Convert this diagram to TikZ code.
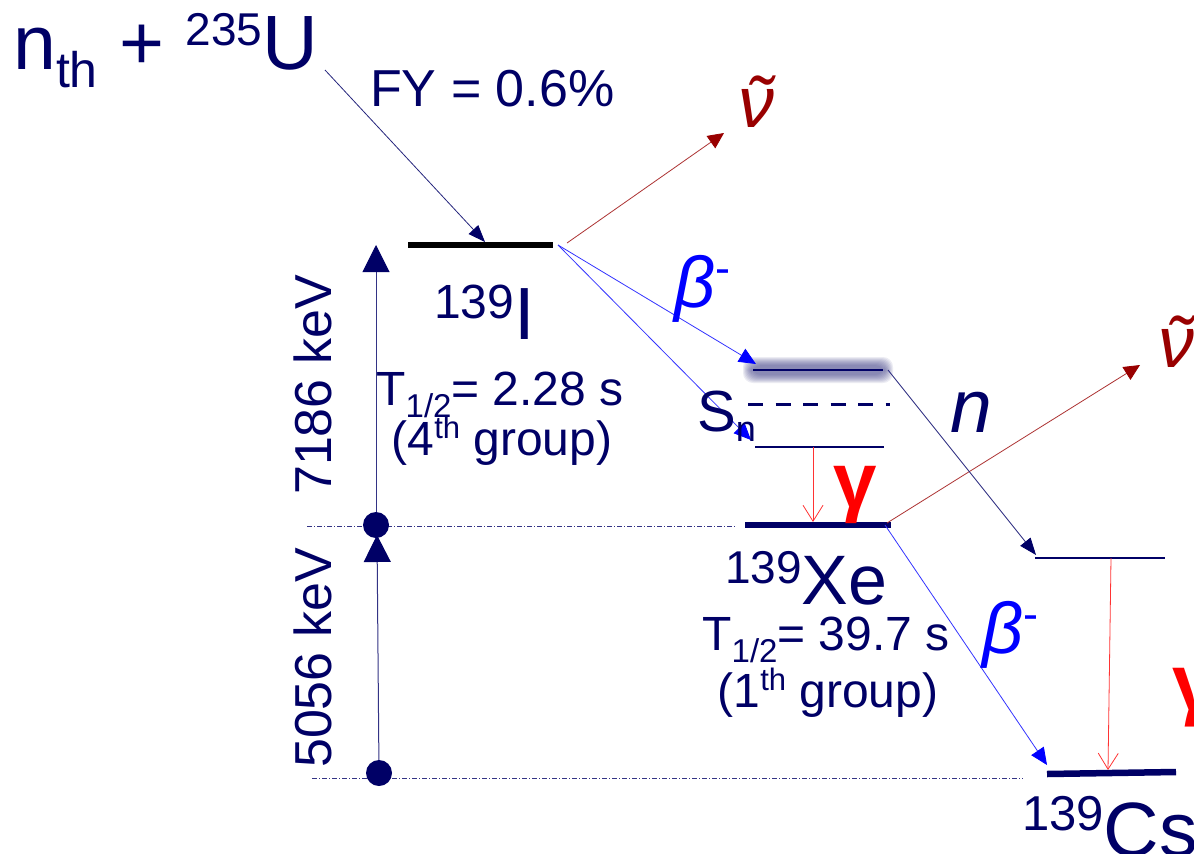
\documentclass[tikz,border=0pt]{standalone}
\usepackage{fontspec}
\setmainfont{Liberation Sans}
\usetikzlibrary{arrows.meta}
\definecolor{navy}{RGB}{0,0,102}
\definecolor{dred}{RGB}{153,0,0}
\definecolor{shadowc}{RGB}{70,70,140}
\newcommand\fsz[1]{\fontsize{#1}{#1}\selectfont}
\begin{document}
\begin{tikzpicture}[x=1pt,y=-1pt,
  txt/.style={navy,inner sep=0pt,anchor=base west},
  txtc/.style={navy,inner sep=0pt,anchor=base},
  thinlvl/.style={navy,line width=1.3pt},
  thicklvl/.style={navy,line width=6.5pt},
  navarr/.style={draw=navy!85,line width=0.8pt,-{Triangle[length=17pt,width=13pt,color=navy]}},
  bluarr/.style={draw=blue!80,line width=0.8pt,-{Triangle[length=17pt,width=15pt,color=blue]}},
  nuarr/.style={draw=dred!80,line width=0.8pt,-{Triangle[length=16pt,width=15pt,color=dred]}},
  gamarr/.style={draw=red!80,line width=0.8pt,-{Straight Barb[length=16pt,width=20pt]}},
  enarr/.style={draw=navy!80,line width=1pt,-{Triangle[length=27pt,width=27pt,color=navy]}},
  dot/.style={circle,fill=navy,minimum size=26pt,inner sep=0pt},
  ddline/.style={navy!80,line width=0.7pt,dash pattern=on 5pt off 2pt on 1pt off 2pt},
]
\useasboundingbox[fill=white] (0,0) rectangle (1194,854);

% ---- coordinates ----
\coordinate (u0) at (325,70);
\coordinate (ia) at (408,245); \coordinate (ib) at (553,245);
\coordinate (itip) at (485,242);
\coordinate (ir) at (558,245); \coordinate (ir2) at (567,243);
\coordinate (nuonetip) at (724,133);
\coordinate (xsa) at (753,370); \coordinate (xsb) at (883,370); \coordinate (xsr) at (888,370);
\coordinate (xstip) at (756,364);
\coordinate (sna) at (748,404); \coordinate (snb) at (890,404);
\coordinate (xla) at (755,447); \coordinate (xlb) at (884,447);
\coordinate (xlg) at (813,447); \coordinate (xggtip) at (813,522);
\coordinate (sntip) at (751,440);
\coordinate (xga) at (745,525); \coordinate (xgb) at (891,525);
\coordinate (xgr) at (887,523); \coordinate (xgr2) at (885,525);
\coordinate (nutwotip) at (1140,365);
\coordinate (ntip) at (1036,555);
\coordinate (csxa) at (1035,558); \coordinate (csxb) at (1165,558);
\coordinate (csxg) at (1111,558); \coordinate (csgtip) at (1108,770);
\coordinate (btwotip) at (1047,765);
\coordinate (csga) at (1047,774); \coordinate (csgb) at (1176,772);
\coordinate (enAtip) at (376,245); \coordinate (enBtip) at (377,535);
\coordinate (ddAa) at (307,526); \coordinate (ddAb) at (735,526);
\coordinate (ddBa) at (312,778); \coordinate (ddBb) at (1023,778);

% ---- dash-dot reference lines ----
\draw[ddline] (ddAa) -- (ddAb);
\draw[ddline] (ddBa) -- (ddBb);

% ---- blurred glow of the Xe* level ----
\foreach \i in {0,...,8}
  \fill[shadowc,opacity=0.1,rounded corners=10pt]
    ({743+\i},{357+\i}) rectangle ({893-\i},{383-\i});

% ---- levels ----
\draw[black,line width=6pt] (ia) -- (ib);
\draw[thinlvl] (xsa) -- (xsb);
\draw[navy,line width=3pt,dash pattern=on 15pt off 12.5pt] (sna) -- (snb);
\draw[thinlvl] (xla) -- (xlb);
\draw[thicklvl] (xga) -- (xgb);
\draw[thinlvl] (csxa) -- (csxb);
\draw[thicklvl] (csga) -- (csgb);

% ---- energy arrows and dots ----
\node[dot] (dA) at (376,525) {};
\node[dot] (dB) at (379,773) {};
\draw[enarr] (dA) -- (enAtip);
\draw[enarr] (dB) -- (enBtip);

% ---- transitions ----
\draw[navarr] (u0) -- (itip);
\draw[nuarr] (ir2) -- (nuonetip);
\draw[bluarr] (ir) -- (xstip);
\draw[bluarr] (ir) -- (sntip);
\draw[gamarr] (xlg) -- (xggtip);
\draw[nuarr] (xgr) -- (nutwotip);
\draw[navarr] (xsr) -- (ntip);
\draw[bluarr] (xgr2) -- (btwotip);
\draw[gamarr] (csxg) -- (csgtip);

% ---- texts ----
\node[txt] (react) at (13,69) {\fsz{77}n\raisebox{-18pt}{\fsz{50}th} + \raisebox{24pt}{\fsz{46}235}U};
\node[txt] (fy) at (370,106) {\fsz{52}FY = 0.6\%};
\node[txt] (iname) at (434,339) {\raisebox{21pt}{\fsz{48}139}\fsz{74}I};
\node[txtc] (ihalf) at (500,405) {\fsz{48}T\raisebox{-12pt}{\fsz{33}1/2}= 2.28 s};
\node[txtc] (igrp) at (502,455) {\fsz{48}(4\raisebox{17pt}{\fsz{31}th} group)};
\node[txt,dred] (nuone) at (738,127) {\fsz{72}\itshape\makebox[0pt][l]{\kern9pt ˜}ν};
\node[txt,blue] (bone) at (674,307) {\fsz{72}\itshape β\raisebox{24pt}{\upshape\fsz{45}-}};
\node[txt] (sn) at (697,431) {\fsz{58}S\raisebox{-10pt}{\fsz{36}n}};
\node[txt,red] (gone) at (833,507) {\fsz{78}\bfseries γ};
\node[txt,dred] (nutwo) at (1158,367) {\fsz{72}\itshape\makebox[0pt][l]{\kern9pt ˜}ν};
\node[txt] (nlab) at (950,432) {\fsz{75}\itshape n};
\node[txt] (xename) at (725,604) {\raisebox{21pt}{\fsz{46}139}\fsz{70}Xe};
\node[txtc] (xehalf) at (826,650) {\fsz{48}T\raisebox{-12pt}{\fsz{33}1/2}= 39.7 s};
\node[txtc] (xegrp) at (828,707) {\fsz{48}(1\raisebox{17pt}{\fsz{31}th} group)};
\node[txt,blue] (btwo) at (982,653) {\fsz{72}\itshape β\raisebox{24pt}{\upshape\fsz{45}-}};
\node[txt,red] (gtwo) at (1172,710) {\fsz{80}\bfseries γ};
\node[txt] (csname) at (1022,856) {\raisebox{26pt}{\fsz{49}139}\fsz{77}Cs};
\node[navy,inner sep=0pt,rotate=90] (eone) at (313,385) {\fsz{52}7186 keV};
\node[navy,inner sep=0pt,rotate=90] (etwo) at (313,658) {\fsz{52}5056 keV};
\end{tikzpicture}
\end{document}
